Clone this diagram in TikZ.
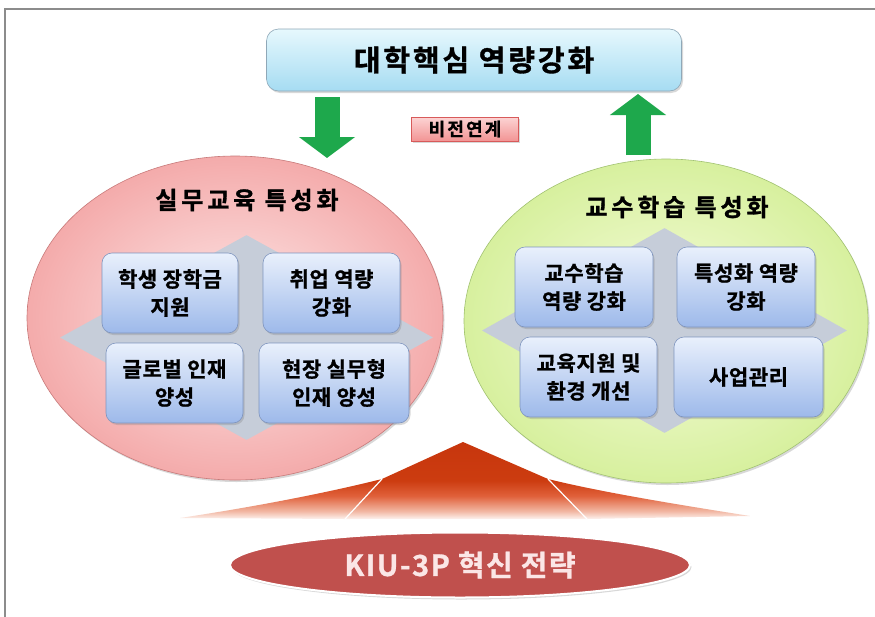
\documentclass[tikz,border=0pt]{standalone}
\usepackage{fontspec}
\newfontfamily\krtop{Noto Sans CJK KR Bold}[LetterSpace=10, FakeBold=1.2]
\newfontfamily\krtitle{Noto Sans CJK KR Bold}[LetterSpace=16, FakeBold=1.2]
\newfontfamily\krbox{Noto Sans CJK KR Bold}[LetterSpace=3, FakeBold=1]
\newfontfamily\krvision{Noto Sans CJK KR Bold}[LetterSpace=12, FakeBold=1]
\newfontfamily\krkiu{Noto Sans CJK KR Bold}[LetterSpace=5, FakeBold=1]
\usepackage{tikz}
\usetikzlibrary{arrows.meta,positioning,shapes.geometric,shadows}

\definecolor{framegray}{HTML}{8C8C8C}
\definecolor{coretop}{HTML}{E6F8FD}
\definecolor{corebot}{HTML}{A6DCF2}
\definecolor{coreline}{HTML}{8FA8B8}
\definecolor{arrowgreen}{HTML}{1EA84C}
\definecolor{visiontop}{HTML}{FCD4D4}
\definecolor{visionbot}{HTML}{F29494}
\definecolor{visionline}{HTML}{D85A5A}
\definecolor{pinkin}{HTML}{FDE8E8}
\definecolor{pinkout}{HTML}{F4ABAB}
\definecolor{pinkline}{HTML}{C87A7A}
\definecolor{limein}{HTML}{F6FCDC}
\definecolor{limeout}{HTML}{D7F09E}
\definecolor{limeline}{HTML}{A2C272}
\definecolor{diagray}{HTML}{C6CDD9}
\definecolor{boxtop}{HTML}{E9F0FC}
\definecolor{boxbot}{HTML}{9DB9EA}
\definecolor{boxline}{HTML}{7F95BF}
\definecolor{redtop}{HTML}{C2300A}
\definecolor{reddeep}{HTML}{CC3C10}
\definecolor{redmid}{HTML}{E0603A}
\definecolor{redpale}{HTML}{F2B8A4}
\definecolor{kiured}{HTML}{C0504D}
\definecolor{kiutext}{HTML}{FBE6E6}

\pgfdeclareverticalshading{redfade}{100bp}{color(0bp)=(white); color(24bp)=(white);
  color(30bp)=(redpale); color(40bp)=(redmid); color(50bp)=(reddeep); color(100bp)=(redtop)}

\tikzset{
  every picture/.style={line width=0.6pt},
  softshadow/.style={drop shadow={opacity=0.3, shadow xshift=1.5pt, shadow yshift=-2pt}},
  corebox/.style={draw=coreline, rounded corners=12pt, top color=coretop, bottom color=corebot,
    minimum width=415pt, minimum height=62pt, inner sep=0pt, softshadow,
    font={\krtop\fontsize{29pt}{32pt}\selectfont}},
  visionbox/.style={draw=visionline, top color=visiontop, bottom color=visionbot,
    minimum width=107pt, minimum height=24pt, inner sep=0pt, softshadow,
    font={\krvision\fontsize{18pt}{20pt}\selectfont}},
  greenarrow/.style={draw=arrowgreen, line width=25pt, -{Triangle[length=21pt, width=55pt]}},
  area/.style={ellipse, draw, minimum height=324pt, inner sep=0pt, softshadow},
  areatitle/.style={font={\krtitle\fontsize{24pt}{26pt}\selectfont}},
  quad/.style={diamond, fill=diagray, minimum height=205pt, inner sep=0pt},
  item/.style={draw=boxline, rounded corners=10pt, top color=boxtop, bottom color=boxbot,
    minimum width=137pt, minimum height=80pt, inner sep=0pt, align=center, softshadow,
    font={\krbox\fontsize{21pt}{28pt}\selectfont}},
  kiu/.style={ellipse, draw=white, line width=2pt, fill=kiured, text=kiutext,
    minimum width=460pt, minimum height=65pt, inner sep=0pt, softshadow,
    font={\krkiu\fontsize{29pt}{32pt}\selectfont}}
}

\begin{document}
\begin{tikzpicture}[x=1pt, y=-1pt]
    \useasboundingbox (0,0) rectangle (875,616);
    \fill[white] (0,0) rectangle (875,616);
    \draw[framegray, line width=1.2pt] (5,9) rectangle (890,630);

    \node[corebox] (core) at (474,60) {대학핵심 역량강화};
    \node[visionbox] (vision) at (465,129) {비전연계};

    \node[area, minimum width=416pt, draw=pinkline, inner color=pinkin, outer color=pinkout] (lcirc) at (235,318) {};
    \node[area, minimum width=404pt, draw=limeline, inner color=limein, outer color=limeout] (rcirc) at (666,321) {};

    \coordinate (downtop) at (327,97);
    \coordinate (downtip) at (327,158);
    \coordinate (upbot) at (638,155);
    \coordinate (uptip) at (638,94);
    \draw[greenarrow] (downtop) -- (downtip);
    \draw[greenarrow] (upbot) -- (uptip);

    \node[areatitle] (ltitle) at (247,200) {실무교육 특성화};
    \node[areatitle] (rtitle) at (677,207) {교수학습 특성화};

    \node[quad, minimum width=373pt] (ldia) at (246.5,337.5) {};
    \node[quad, minimum width=365pt] (rdia) at (664.5,330.5) {};

    \node[item, minimum width=136pt] (lb1) at (170,293) {학생 장학금\\지원};
    \node[item] (lb2) at (331.5,293) {취업 역량\\강화};
    \node[item] (lb3) at (174.5,383) {글로벌 인재\\양성};
    \node[item, minimum width=150pt] (lb4) at (334,383) {현장 실무형\\인재 양성};

    \node[item, minimum width=138pt] (rb1) at (584,287) {교수학습\\역량 강화};
    \node[item, minimum width=138pt] (rb2) at (746,287) {특성화 역량\\강화};
    \node[item] (rb3) at (588.5,377) {교육지원 및\\환경 개선};
    \node[item, minimum width=149pt] (rb4) at (748.5,377) {사업관리};

    \shade[shading=redfade]
      (180,518) .. controls (260,506) and (330,492) .. (382,479) -- (463,442) -- (548,479)
      .. controls (600,492) and (680,505) .. (750,516) -- (587,519) -- (345,519) -- cycle;
    \draw[white, line width=1.2pt] (382,479) -- (345,519);
    \draw[white, line width=1.2pt] (548,479) -- (587,519);

    \node[kiu] (kiu) at (460,565) {KIU-3P 혁신 전략};
\end{tikzpicture}
\end{document}
